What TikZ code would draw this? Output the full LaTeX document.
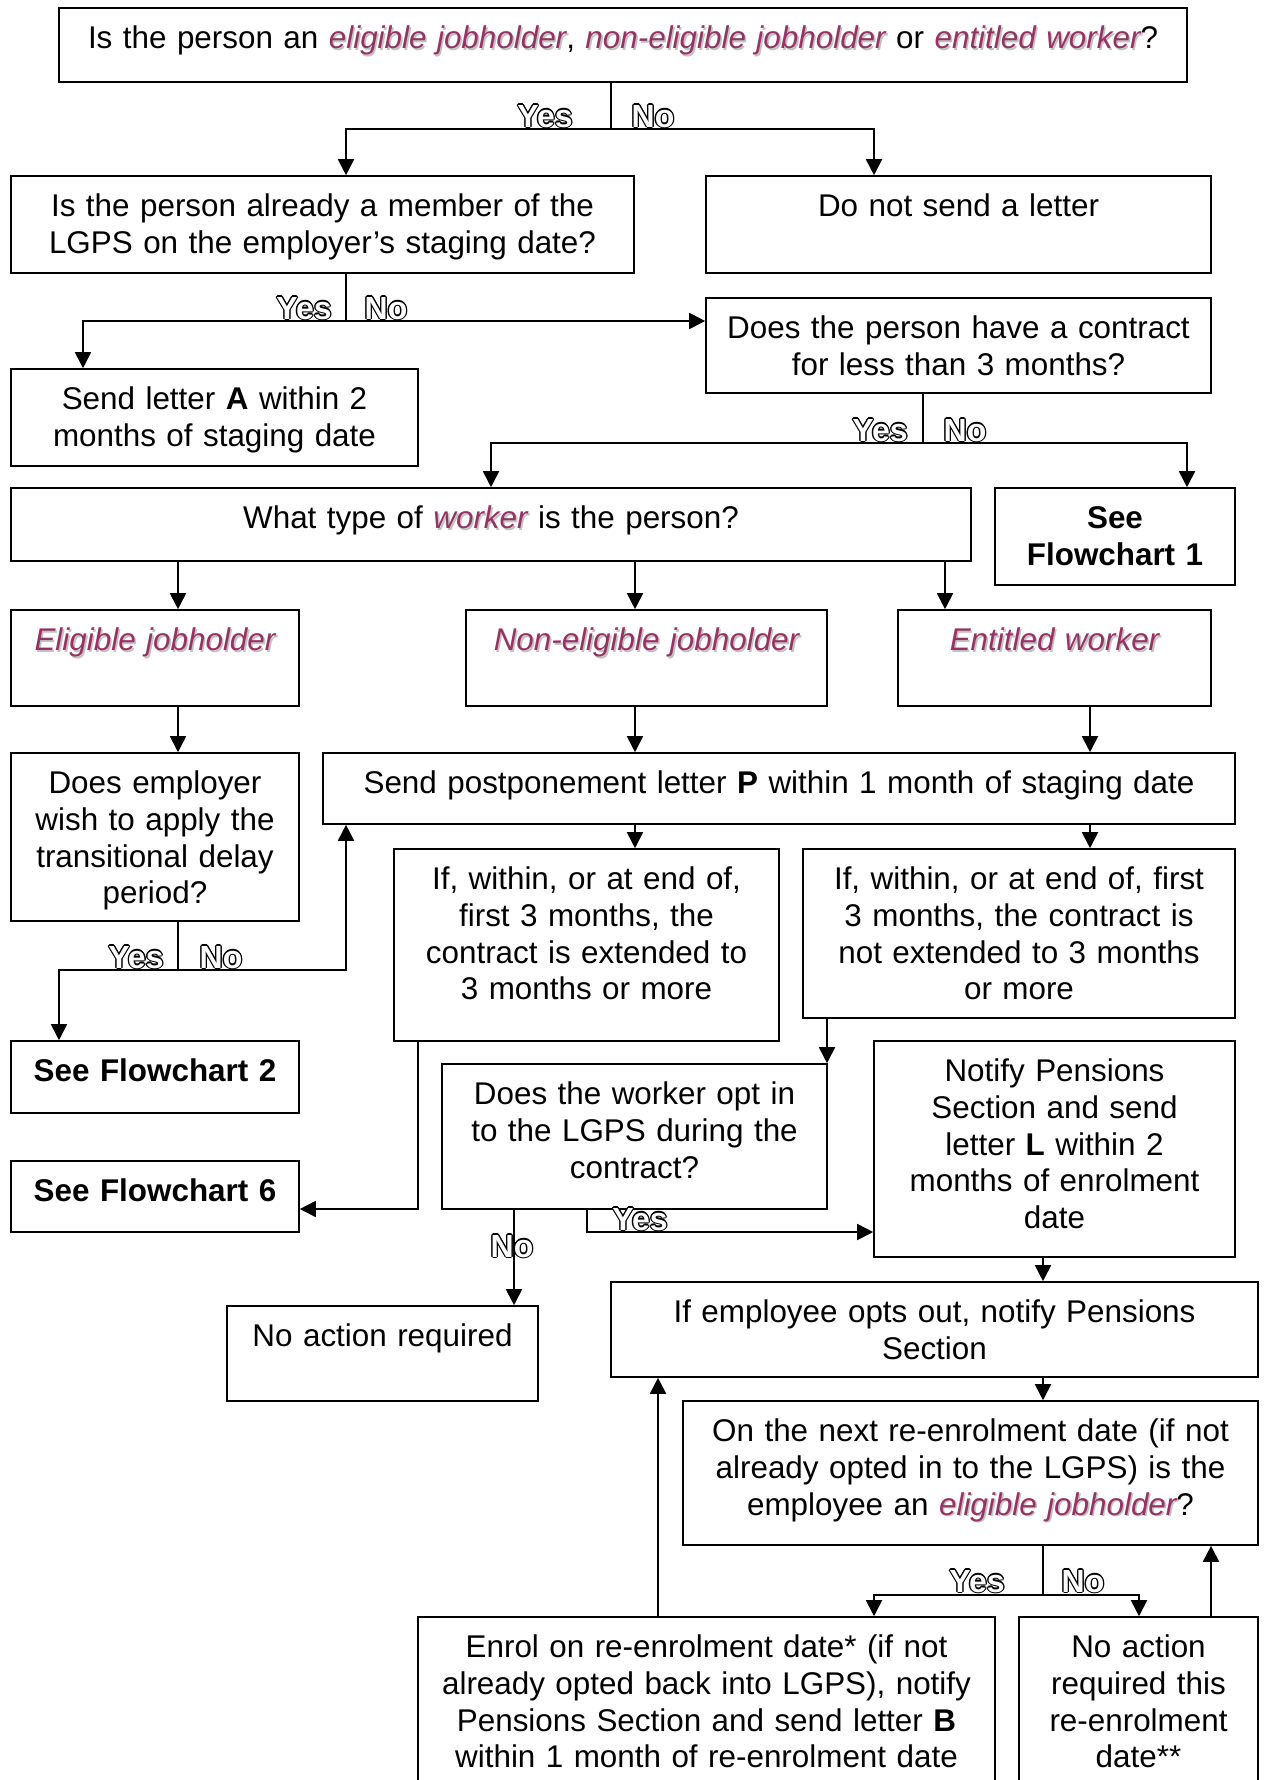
\documentclass[tikz,border=0pt]{standalone}
\usepackage{fontspec}
\setmainfont{Liberation Sans}
\usetikzlibrary{arrows.meta,fit}

\definecolor{plum}{RGB}{150,50,100}
\definecolor{shade}{gray}{0.76}

% italic key terms with a soft grey drop shadow
\newcommand\emw[1]{\leavevmode\rlap{\kern1.6pt\raisebox{-1.6pt}{\color{shade}\itshape #1}}{\color{plum}\itshape #1}}
% outlined bold answer labels: black copies around a white face
\newcommand\ynshift[3]{\rlap{\kern#1\raisebox{#2}{#3}}}
\newcommand\yn[1]{{\bfseries\color{black}%
  \ynshift{1.3pt}{0pt}{#1}\ynshift{-1.3pt}{0pt}{#1}%
  \ynshift{0pt}{1.3pt}{#1}\ynshift{0pt}{-1.3pt}{#1}%
  \ynshift{0.95pt}{0.95pt}{#1}\ynshift{-0.95pt}{0.95pt}{#1}%
  \ynshift{0.95pt}{-0.95pt}{#1}\ynshift{-0.95pt}{-0.95pt}{#1}%
  \color{white}#1}}

\tikzset{
  flowframe/.style={draw, line width=1.6pt, inner sep=0pt},
  flowtext/.style={inner sep=0pt, align=center, font=\fontsize{31.4}{36.6}\selectfont},
  wire/.style={line width=1.8pt},
  wirearrow/.style={wire, -{Triangle[length=16pt,width=16pt]}},
  answer/.style={inner sep=0pt, anchor=base, font=\fontsize{32}{32}\selectfont},
}

% box: name, x1, y1, x2, y2, text (text set from the top of the box)
\newcommand\flowbox[6]{%
  \coordinate (#1-nw) at (#2,#3);
  \coordinate (#1-se) at (#4,#5);
  \node[flowframe, fit=(#1-nw)(#1-se)] (#1) {};
  \pgfmathsetmacro\flowtw{#4-#2-6}
  \node[flowtext, text width=\flowtw pt, anchor=north, yshift=-18.5pt] (#1-t) at (#1.north) {\rule{0pt}{23pt}#6};
}

\begin{document}
\begin{tikzpicture}[x=1pt,y=-1pt]
\useasboundingbox (0,0) rectangle (1264,1780);
\fill[white] (0,0) rectangle (1264,1780);
\clip (0,0) rectangle (1264,1780);

% ---------- boxes ----------
\flowbox{q1}{59}{8}{1187}{82}{Is the person an \emw{eligible jobholder}, \emw{non-eligible jobholder} or \emw{entitled worker}?}
\flowbox{q2}{11}{176}{634}{273}{Is the person already a member of the\\LGPS on the employer’s staging date?}
\flowbox{q3}{706}{176}{1211}{273}{Do not send a letter}
\flowbox{q4}{706}{298}{1211}{393}{Does the person have a contract\\for less than 3 months?}
\flowbox{q5}{11}{369}{418}{466}{Send letter \textbf{A} within 2\\months of staging date}
\flowbox{q6}{11}{488}{971}{561}{What type of \emw{worker} is the person?}
\flowbox{q7}{995}{488}{1235}{585}{\textbf{See}\\\textbf{Flowchart 1}}
\flowbox{q8}{11}{610}{299}{706}{\emw{Eligible jobholder}}
\flowbox{q9}{466}{610}{827}{706}{\emw{Non-eligible jobholder}}
\flowbox{q10}{898}{610}{1211}{706}{\emw{Entitled worker}}
\flowbox{q11}{11}{753}{299}{921}{Does employer\\wish to apply the\\transitional delay\\period?}
\flowbox{q12}{323}{753}{1235}{824}{Send postponement letter \textbf{P} within 1 month of staging date}
\flowbox{q13}{394}{849}{779}{1041}{If, within, or at end of,\\first 3 months, the\\contract is extended to\\3 months or more}
\flowbox{q14}{803}{849}{1235}{1018}{If, within, or at end of, first\\3 months, the contract is\\not extended to 3 months\\or more}
\flowbox{q15}{11}{1041}{299}{1113}{\textbf{See Flowchart 2}}
\flowbox{q16}{11}{1161}{299}{1232}{\textbf{See Flowchart 6}}
\flowbox{q17}{442}{1064}{827}{1209}{Does the worker opt in\\to the LGPS during the\\contract?}
\flowbox{q18}{874}{1041}{1235}{1257}{Notify Pensions\\Section and send\\letter \textbf{L} within 2\\months of enrolment\\date}
\flowbox{q19}{227}{1306}{538}{1401}{No action required}
\flowbox{q20}{611}{1282}{1258}{1377}{If employee opts out, notify Pensions\\Section}
\flowbox{q21}{683}{1401}{1258}{1545}{On the next re-enrolment date (if not\\already opted in to the LGPS) is the\\employee an \emw{eligible jobholder}?}
\flowbox{q22}{418}{1617}{995}{1800}{Enrol on re-enrolment date* (if not\\already opted back into LGPS), notify\\Pensions Section and send letter \textbf{B}\\within 1 month of re-enrolment date}
\flowbox{q23}{1019}{1617}{1258}{1800}{No action\\required this\\re-enrolment\\date**}

% ---------- vertical guides ----------
\coordinate (g1) at (178,0);
\coordinate (g2) at (635,0);
\coordinate (g3) at (945,0);
\coordinate (g4) at (1090,0);
\coordinate (g5) at (827,0);
\coordinate (g6) at (514,0);
\coordinate (g7) at (1043,0);
\coordinate (g8) at (658,0);
\coordinate (g9) at (1211,0);

% ---------- connectors ----------
% eligibility question
\coordinate (s1) at (611,129); \coordinate (s1l) at (346,129); \coordinate (s1r) at (874,129);
\draw[wire] (s1 |- q1.south) -- (s1);
\draw[wirearrow] (s1) -- (s1l) -- (s1l |- q2.north);
\draw[wirearrow] (s1) -- (s1r) -- (s1r |- q3.north);

% already a member
\coordinate (s2) at (346,321); \coordinate (s2l) at (83,321);
\draw[wire] (s2 |- q2.south) -- (s2);
\draw[wirearrow] (s2) -- (s2l) -- (s2l |- q5.north);
\draw[wirearrow] (s2) -- (s2 -| q4.west);

% contract length
\coordinate (s3) at (923,443); \coordinate (s3l) at (491,443); \coordinate (s3r) at (1187,443);
\draw[wire] (s3 |- q4.south) -- (s3);
\draw[wirearrow] (s3) -- (s3l) -- (s3l |- q6.north);
\draw[wirearrow] (s3) -- (s3r) -- (s3r |- q7.north);

% worker types
\draw[wirearrow] (g1 |- q6.south) -- (g1 |- q8.north);
\draw[wirearrow] (g2 |- q6.south) -- (g2 |- q9.north);
\draw[wirearrow] (g3 |- q6.south) -- (g3 |- q10.north);
\draw[wirearrow] (g1 |- q8.south) -- (g1 |- q11.north);
\draw[wirearrow] (g2 |- q9.south) -- (g2 |- q12.north);
\draw[wirearrow] (g4 |- q10.south) -- (g4 |- q12.north);
\draw[wirearrow] (g2 |- q12.south) -- (g2 |- q13.north);
\draw[wirearrow] (g4 |- q12.south) -- (g4 |- q14.north);

% transitional delay
\coordinate (s4) at (178,970); \coordinate (s4l) at (59,970); \coordinate (s4r) at (346,970);
\draw[wire] (s4 |- q11.south) -- (s4);
\draw[wirearrow] (s4) -- (s4l) -- (s4l |- q15.north);
\draw[wirearrow] (s4) -- (s4r) -- (s4r |- q12.south);

% contract extended / not extended
\coordinate (b1) at (418,1209);
\draw[wirearrow] (b1 |- q13.south) -- (b1) -- (b1 -| q16.east);
\draw[wirearrow] (g5 |- q14.south) -- (g5 |- q17.north);

% opt in during the contract
\draw[wirearrow] (g6 |- q17.south) -- (g6 |- q19.north);
\coordinate (b2) at (587,1232);
\draw[wirearrow] (b2 |- q17.south) -- (b2) -- (b2 -| q18.west);

% enrolment and opting out
\draw[wirearrow] (g7 |- q18.south) -- (g7 |- q20.north);
\draw[wirearrow] (g7 |- q20.south) -- (g7 |- q21.north);

% re-enrolment question
\coordinate (s5) at (1043,1595); \coordinate (s5l) at (874,1595); \coordinate (s5r) at (1139,1595);
\draw[wire] (s5 |- q21.south) -- (s5);
\draw[wirearrow] (s5) -- (s5l) -- (s5l |- q22.north);
\draw[wirearrow] (s5) -- (s5r) -- (s5r |- q23.north);
\draw[wirearrow] (g8 |- q22.north) -- (g8 |- q20.south);
\draw[wirearrow] (g9 |- q23.north) -- (g9 |- q21.south);

% ---------- answer labels ----------
\node[answer] (a1y) at (545,127) {\yn{Yes}};
\node[answer] (a1n) at (653,127) {\yn{No}};
\node[answer] (a2y) at (304,319) {\yn{Yes}};
\node[answer] (a2n) at (386,319) {\yn{No}};
\node[answer] (a3y) at (880,441) {\yn{Yes}};
\node[answer] (a3n) at (965,441) {\yn{No}};
\node[answer] (a4y) at (136,968) {\yn{Yes}};
\node[answer] (a4n) at (221,968) {\yn{No}};
\node[answer] (a5n) at (512,1257) {\yn{No}};
\node[answer] (a5y) at (640,1230) {\yn{Yes}};
\node[answer] (a6y) at (977,1592) {\yn{Yes}};
\node[answer] (a6n) at (1083,1592) {\yn{No}};
\end{tikzpicture}
\end{document}
